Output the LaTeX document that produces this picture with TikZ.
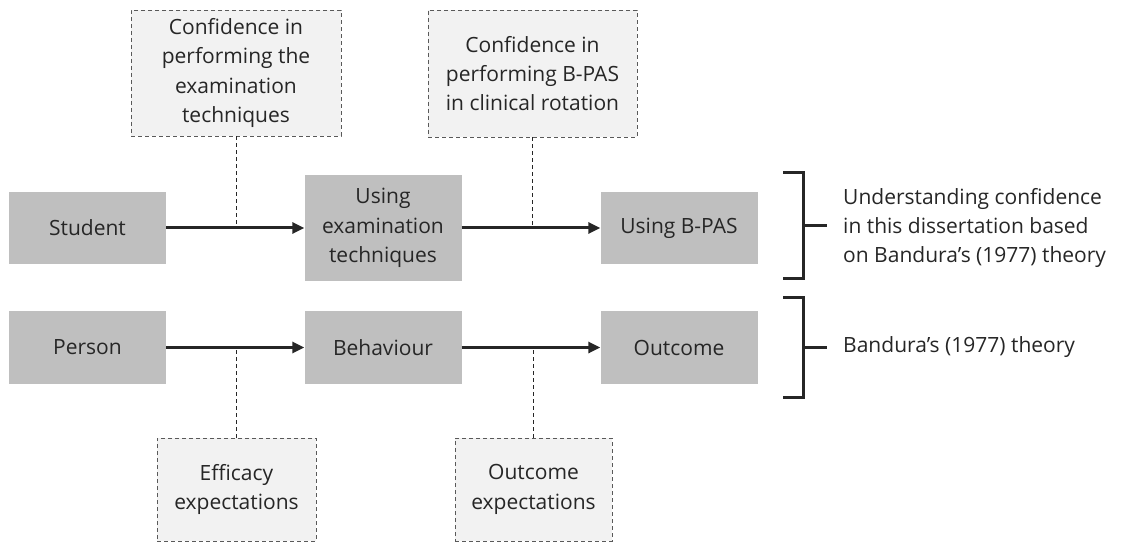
\documentclass[tikz,border=0pt]{standalone}
\usepackage{fontspec}
\setmainfont{Open Sans}
\usetikzlibrary{arrows.meta}
\definecolor{boxgray}{HTML}{BFBFBF}
\definecolor{notefill}{HTML}{F2F2F2}
\definecolor{notedraw}{HTML}{595959}
\definecolor{ink}{HTML}{262626}
\begin{document}
\begin{tikzpicture}[x=1pt,y=-1pt,
  every node/.style={font=\fontsize{21}{29.3}\selectfont, text=ink, inner sep=0pt},
  stepbox/.style={fill=boxgray, align=center, minimum width=157pt},
  notebox/.style={fill=notefill, draw=notedraw, line width=0.9pt, dash pattern=on 4pt off 3pt, align=center},
  flow/.style={draw=ink, line width=3pt, -{Triangle[length=12pt,width=11pt]}},
  link/.style={draw=ink, line width=0.8pt, dash pattern=on 4pt off 3pt},
  brace/.style={draw=ink, line width=3pt}]
\useasboundingbox (0,0) rectangle (1123,545);

% top row: the dissertation's reading of confidence
\node[stepbox, minimum height=72pt]  (student)   at (87.5,228)  {Student};
\node[stepbox, minimum height=106pt] (usingexam) at (383,228)   {Using\\examination\\techniques};
\node[stepbox, minimum height=72pt]  (usingbpas) at (679,228)   {Using B-PAS};

% bottom row: Bandura's model
\node[stepbox, minimum height=73pt] (person)    at (87.5,347.5) {Person};
\node[stepbox, minimum height=73pt] (behaviour) at (383,347.5)  {Behaviour};
\node[stepbox, minimum height=73pt] (outcome)   at (679,347.5)  {Outcome};

% notes above and below the flows
\node[notebox, minimum width=210pt, minimum height=126pt] (conf1)  at (236,73)    {Confidence in\\performing the\\examination\\techniques};
\node[notebox, minimum width=209pt, minimum height=127pt] (conf2)  at (532.5,73.5) {Confidence in\\performing B-PAS\\in clinical rotation};
\node[notebox, minimum width=159pt, minimum height=103pt] (eff)    at (236.5,489.5) {Efficacy\\expectations};
\node[notebox, minimum width=157pt, minimum height=103pt] (outexp) at (533.5,489.5) {Outcome\\expectations};

% flows
\draw[flow] (student.east)   -- (usingexam.west);
\draw[flow] (usingexam.east) -- (usingbpas.west);
\draw[flow] (person.east)    -- (behaviour.west);
\draw[flow] (behaviour.east) -- (outcome.west);

% notes attached to the flows
\draw[link] (conf1.south)  -- (conf1.south |- student.east);
\draw[link] (conf2.south)  -- (conf2.south |- usingbpas.west);
\draw[link] (eff.north)    -- (eff.north |- person.east);
\draw[link] (outexp.north) -- (outexp.north |- outcome.west);

% brackets on the right
\coordinate (b1t) at (783,173);
\coordinate (b1b) at (783,278);
\coordinate (b1m) at (803,226);
\coordinate (b2t) at (783,297);
\coordinate (b2b) at (783,397);
\coordinate (b2m) at (803,347);
\draw[brace] (b1t) -- ++(20,0) -- ++(0,105) -- (b1b);
\draw[brace] (b1m) -- ++(24,0) coordinate (b1tip);
\draw[brace] (b2t) -- ++(20,0) -- ++(0,100) -- (b2b);
\draw[brace] (b2m) -- ++(24,0) coordinate (b2tip);

\node[anchor=west, align=left] (read)    at (843,228) {Understanding confidence\\in this dissertation based\\on Bandura’s (1977) theory};
\node[anchor=west, align=left] (bandura) at (843,347) {Bandura’s (1977) theory};
\end{tikzpicture}
\end{document}
